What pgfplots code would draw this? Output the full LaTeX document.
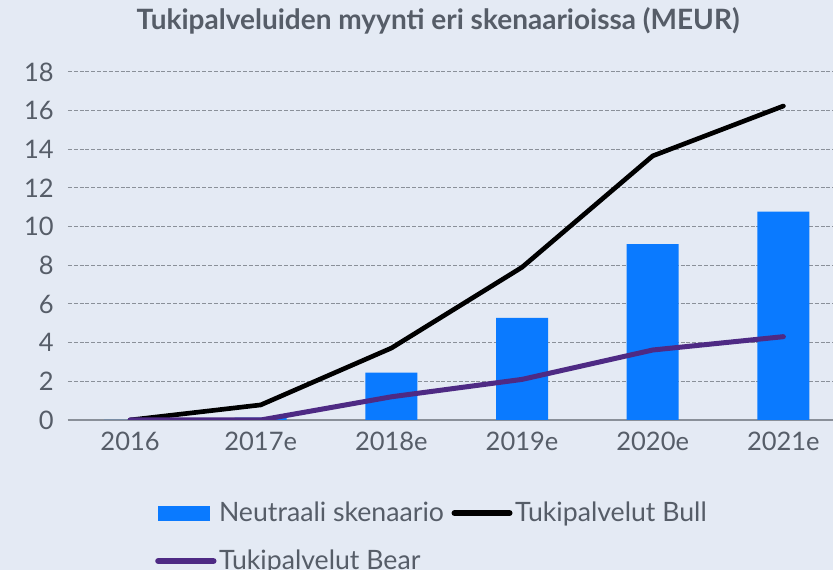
\documentclass[border=0pt]{standalone}
\usepackage{pgfplots}
\pgfplotsset{compat=1.18}
\usepackage{fontspec}
\setmainfont{Lato}
\definecolor{bg}{HTML}{E4EAF4}
\definecolor{barblue}{HTML}{0A7AFF}
\definecolor{bearpurple}{HTML}{4E2A84}
\definecolor{txt}{HTML}{565D68}
\definecolor{gridc}{HTML}{8A9099}
\begin{document}
\begin{tikzpicture}
\fill[bg] (0,0) rectangle (499.8pt,342pt);
\node[anchor=base, text=txt, font=\fontsize{16.8}{20}\selectfont\bfseries, inner sep=0pt] at (262.8pt,324pt) {Tukipalveluiden myynti eri skenaarioissa (MEUR)};
\begin{axis}[
  at={(40.8pt,90pt)}, anchor=south west,
  width=459pt, height=208.8pt, scale only axis,
  xmin=-0.475, xmax=5.38, ymin=0, ymax=18,
  xtick={0,1,2,3,4,5},
  xticklabels={2016,2017e,2018e,2019e,2020e,2021e},
  ytick={0,2,...,18},
  major tick length=0pt,
  axis line style={draw=none},
  ymajorgrids,
  grid style={gridc, line width=0.6pt, dash pattern=on 2.4pt off 1.1pt},
  extra y ticks={0}, extra y tick labels={},
  extra y tick style={grid style={solid, gridc, line width=1pt}},
  /pgf/number format/assume math mode=true,
  tick label style={font=\fontsize{15.3}{18}\selectfont, text=txt},
  xticklabel style={yshift=-3.6pt},
  yticklabel style={xshift=-5pt},
  legend columns=2,
  legend style={at={(0.107,-0.218)}, anchor=north west, draw=none, fill=none,
    font=\fontsize{16}{19}\selectfont, text=txt, row sep=12.5pt,
    nodes={inner sep=1.5pt}},
  /tikz/every even column/.append style={column sep=3pt},
  legend cell align=left,
]
\addplot[ybar, bar width=31.2pt, bar shift=0pt, fill=barblue, draw=none,
  legend image code/.code={\fill[barblue] (0pt,-4.5pt) rectangle (31pt,4.5pt);}]
  coordinates {(0,0) (1,0.12) (2,2.45) (3,5.28) (4,9.1) (5,10.78)};
\addlegendentry{Neutraali skenaario}
\addplot[black, line width=2.8pt, line join=round, line cap=round,
  legend image code/.code={\draw[black, line width=3.6pt, line cap=round] (0pt,0pt) -- (33pt,0pt);}]
  coordinates {(0,0) (1,0.78) (2,3.72) (3,7.9) (4,13.66) (5,16.24)};
\addlegendentry{Tukipalvelut Bull}
\addplot[bearpurple, line width=3pt, line join=round, line cap=round,
  legend image code/.code={\draw[bearpurple, line width=3.8pt, line cap=round] (0pt,0pt) -- (33pt,0pt);}]
  coordinates {(0,0) (1,0) (2,1.2) (3,2.1) (4,3.62) (5,4.31)};
\addlegendentry{Tukipalvelut Bear}
\end{axis}
\pgfresetboundingbox
\path (0,0) rectangle (499.8pt,342pt);
\end{tikzpicture}
\end{document}
